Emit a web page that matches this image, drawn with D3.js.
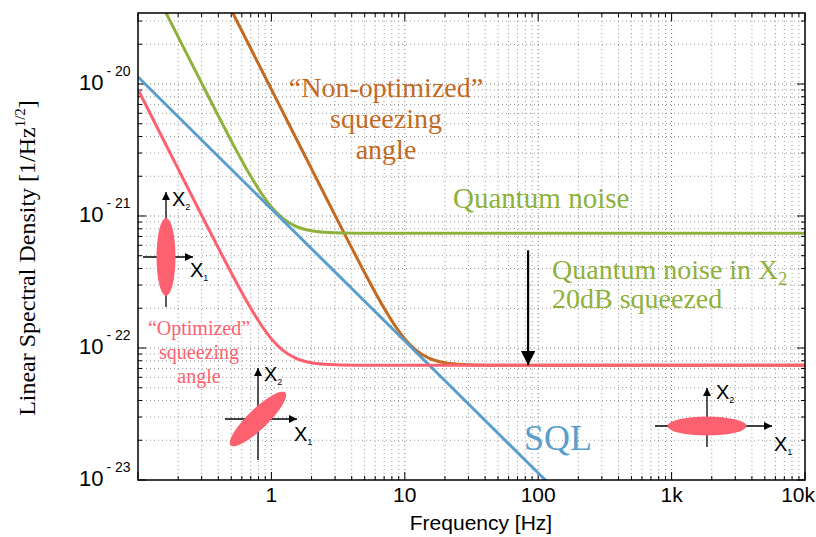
<!DOCTYPE html>
<html>
<head>
<meta charset="utf-8">
<script src="https://cdn.jsdelivr.net/npm/d3@7"></script>
<style>
  html, body { margin: 0; padding: 0; background: #fff; }
  svg { display: block; }
</style>
</head>
<body>
<svg id="chart" width="816" height="537"></svg>
<script>
// Quantum noise budget: SQL, unsqueezed quantum noise and two 20 dB squeezed variants
const freqQN = [0.1, 0.15, 0.2, 0.3, 0.4, 0.5, 0.7, 0.85, 1, 1.2, 1.5, 2, 2.5, 3, 5, 10, 100, 1000, 10000];
const quantumNoise = [9.1e-20, 4.04e-20, 2.276e-20, 1.014e-20, 5.735e-21, 3.715e-21, 1.999e-21, 1.461e-21, 1.173e-21, 9.73e-22, 8.43e-22, 7.74e-22, 7.54e-22, 7.47e-22, 7.41e-22, 7.4e-22, 7.4e-22, 7.4e-22, 7.4e-22];
const optimizedSqz = [9.1e-21, 4.04e-21, 2.276e-21, 1.014e-21, 5.735e-22, 3.715e-22, 1.999e-22, 1.461e-22, 1.173e-22, 9.73e-23, 8.43e-23, 7.74e-23, 7.54e-23, 7.47e-23, 7.41e-23, 7.4e-23, 7.4e-23, 7.4e-23, 7.4e-23];
const freqNonOpt = [0.4, 0.5, 0.7, 1, 1.5, 2, 3, 4, 5, 7, 8.5, 10, 12, 15, 20, 25, 30, 50, 100, 1000, 10000];
const nonOptimizedSqz = [5.69e-20, 3.64e-20, 1.857e-20, 9.1e-21, 4.04e-21, 2.275e-21, 1.011e-21, 5.735e-22, 3.715e-22, 1.999e-22, 1.461e-22, 1.173e-22, 9.73e-23, 8.43e-23, 7.74e-23, 7.54e-23, 7.47e-23, 7.41e-23, 7.4e-23, 7.4e-23, 7.4e-23];
const freqSQL = [0.1, 1, 10, 100, 1000, 10000];
const sql = [1.13e-20, 1.13e-21, 1.13e-22, 1.13e-23, 1.13e-24, 1.13e-25];

const xTickValues = [1, 10, 100, 1000, 10000];
const xTickLabels = ["1", "10", "100", "1k", "10k"];
const yTickValues = [1e-23, 1e-22, 1e-21, 1e-20];
const yTickExponents = ["- 23", "- 22", "- 21", "- 20"];
const squeezeArrow = { freq: 84, from: 5.5e-22, to: 7.4e-23 };

const colors = {
  qn: "#8db13b",
  sql: "#5a9fcb",
  nonopt: "#c4691f",
  opt: "#fd6170"
};

const margin = { left: 138, right: 11, top: 13, bottom: 57 };
const W = 816, H = 537;
const svg = d3.select("#chart");

const x = d3.scaleLog().domain([0.1, 10000]).range([margin.left, W - margin.right]);
const y = d3.scaleLog().domain([1e-23, 3.45e-20]).range([H - margin.bottom, margin.top]);
const [x0, x1] = x.range();
const [y1, y0] = y.range();

// minor / major tick positions
const xMinor = [];
for (let e = -1; e < 4; e++) for (let k = 1; k <= 9; k++) xMinor.push(k * Math.pow(10, e));
xMinor.push(10000);
const yMinor = [];
for (let e = -23; e <= -20; e++) for (let k = 1; k <= 9; k++) {
  const v = k * Math.pow(10, e);
  if (v <= 3.45e-20) yMinor.push(v);
}
const isMajor = v => Math.abs(Math.log10(v) - Math.round(Math.log10(v))) < 1e-6;

// dotted grid
const grid = svg.append("g");
grid.selectAll(".gx").data(xMinor.filter(v => v > 0.1 && v < 10000)).join("line")
  .attr("x1", d => x(d)).attr("x2", d => x(d)).attr("y1", y0).attr("y2", y1)
  .attr("stroke", d => isMajor(d) ? "#777" : "#999").attr("stroke-width", 1)
  .attr("stroke-dasharray", "1,3");
grid.selectAll(".gy").data(yMinor.filter(v => v > 1e-23)).join("line")
  .attr("x1", x0).attr("x2", x1).attr("y1", d => y(d)).attr("y2", d => y(d))
  .attr("stroke", d => isMajor(d) ? "#777" : "#999").attr("stroke-width", 1)
  .attr("stroke-dasharray", "1,3");

// inward ticks on all four sides
const ticks = svg.append("g").attr("stroke", "#000").attr("stroke-width", 1);
xMinor.forEach(v => {
  const L = isMajor(v) ? 8 : 4;
  ticks.append("line").attr("x1", x(v)).attr("x2", x(v)).attr("y1", y1).attr("y2", y1 - L);
  ticks.append("line").attr("x1", x(v)).attr("x2", x(v)).attr("y1", y0).attr("y2", y0 + L);
});
yMinor.forEach(v => {
  const L = isMajor(v) ? 8 : 4;
  ticks.append("line").attr("x1", x0).attr("x2", x0 + L).attr("y1", y(v)).attr("y2", y(v));
  ticks.append("line").attr("x1", x1).attr("x2", x1 - L).attr("y1", y(v)).attr("y2", y(v));
});

// curves, clipped to the plot area
svg.append("clipPath").attr("id", "plotclip").append("rect")
  .attr("x", x0).attr("y", y0).attr("width", x1 - x0).attr("height", y1 - y0);
const curves = svg.append("g").attr("clip-path", "url(#plotclip)");
const line = d3.line().x(d => x(d[0])).y(d => y(d[1])).curve(d3.curveMonotoneX);
const series = [
  { f: freqNonOpt, v: nonOptimizedSqz, c: colors.nonopt },
  { f: freqQN, v: quantumNoise, c: colors.qn },
  { f: freqSQL, v: sql, c: colors.sql },
  { f: freqQN, v: optimizedSqz, c: colors.opt }
];
series.forEach(s => {
  curves.append("path").datum(s.f.map((f, i) => [f, s.v[i]]))
    .attr("d", line).attr("fill", "none").attr("stroke", s.c).attr("stroke-width", 3);
});

// frame
svg.append("rect").attr("x", x0).attr("y", y0).attr("width", x1 - x0).attr("height", y1 - y0)
  .attr("fill", "none").attr("stroke", "#000").attr("stroke-width", 1.5);

// tick labels
const sans = "'Liberation Sans', Arial, sans-serif";
const serif = "'Liberation Serif', 'Times New Roman', serif";
svg.append("g").selectAll("text").data(xTickValues).join("text")
  .attr("x", (d, i) => i === xTickValues.length - 1 ? W - 1 : x(d)).attr("y", y1 + 22)
  .attr("text-anchor", (d, i) => i === xTickValues.length - 1 ? "end" : "middle")
  .attr("font-family", sans).attr("font-size", 21).text((d, i) => xTickLabels[i]);
const yl = svg.append("g").selectAll("text").data(yTickValues).join("text")
  .attr("x", 79).attr("y", d => y(d) + 6).attr("font-family", sans).attr("font-size", 22);
yl.append("tspan").text("10");
yl.append("tspan").attr("dx", 3).attr("dy", -14).attr("font-size", 14).text((d, i) => yTickExponents[i]);

// axis titles
svg.append("text").attr("x", 481).attr("y", 530).attr("text-anchor", "middle")
  .attr("font-family", sans).attr("font-size", 21).text("Frequency [Hz]");
const yt = svg.append("text").attr("transform", "translate(35,258) rotate(-90)")
  .attr("text-anchor", "middle").attr("font-family", serif).attr("font-size", 24);
yt.append("tspan").text("Linear Spectral Density [1/Hz");
yt.append("tspan").attr("dy", -10).attr("font-size", 15).text("1/2");
yt.append("tspan").attr("dy", 10).text("]");

// curve annotations
function label(lines, cx, cy, size, color, lh) {
  const t = svg.append("text").attr("font-family", serif).attr("font-size", size)
    .attr("fill", color).attr("text-anchor", "middle");
  lines.forEach((s, i) => t.append("tspan").attr("x", cx).attr("y", cy + i * lh).text(s));
}
label(["\u201CNon-optimized\u201D", "squeezing", "angle"], 386, 97, 28, colors.nonopt, 31);
label(["\u201COptimized\u201D", "squeezing", "angle"], 199, 335, 20, colors.opt, 24);
svg.append("text").attr("x", 453).attr("y", 208).attr("font-family", serif).attr("font-size", 29)
  .attr("fill", colors.qn).text("Quantum noise");
const qx = svg.append("text").attr("x", 552).attr("y", 279).attr("font-family", serif).attr("font-size", 28)
  .attr("fill", colors.qn);
qx.append("tspan").text("Quantum noise in X");
qx.append("tspan").attr("dy", 6).attr("font-size", 18).text("2");
svg.append("text").attr("x", 552).attr("y", 308).attr("font-family", serif).attr("font-size", 28)
  .attr("fill", colors.qn).text("20dB squeezed");
svg.append("text").attr("x", 524).attr("y", 450).attr("font-family", serif).attr("font-size", 36)
  .attr("fill", colors.sql).text("SQL");

// squeezing arrow
const defs = svg.append("defs");
defs.append("marker").attr("id", "bigArrow").attr("viewBox", "0 0 10 10").attr("refX", 10).attr("refY", 5)
  .attr("markerWidth", 6.5).attr("markerHeight", 6.5).attr("markerUnits", "strokeWidth").attr("orient", "auto")
  .append("path").attr("d", "M0,0 L10,5 L0,10 Z").attr("fill", "#000");
defs.append("marker").attr("id", "smallArrow").attr("viewBox", "0 0 10 10").attr("refX", 10).attr("refY", 5)
  .attr("markerWidth", 12).attr("markerHeight", 8).attr("markerUnits", "userSpaceOnUse").attr("orient", "auto")
  .append("path").attr("d", "M0,0 L10,5 L0,10 Z").attr("fill", "#000");
svg.append("line")
  .attr("x1", x(squeezeArrow.freq)).attr("x2", x(squeezeArrow.freq))
  .attr("y1", y(squeezeArrow.from)).attr("y2", y(squeezeArrow.to))
  .attr("stroke", "#000").attr("stroke-width", 2.2).attr("marker-end", "url(#bigArrow)");

// phase-space sketches of the squeezed states (ellipse drawn over the axes)
function phase(cx, cy, h0, h1, v0, v1, rx, ry, rot, l2, l1) {
  const g = svg.append("g");
  g.append("line").attr("x1", h0).attr("x2", h1).attr("y1", cy).attr("y2", cy)
    .attr("stroke", "#000").attr("stroke-width", 1.3).attr("marker-end", "url(#smallArrow)");
  g.append("line").attr("x1", cx).attr("x2", cx).attr("y1", v0).attr("y2", v1)
    .attr("stroke", "#000").attr("stroke-width", 1.3).attr("marker-end", "url(#smallArrow)");
  g.append("ellipse").attr("cx", cx).attr("cy", cy).attr("rx", rx).attr("ry", ry)
    .attr("transform", `rotate(${rot},${cx},${cy})`).attr("fill", colors.opt);
  [[l2, "2"], [l1, "1"]].forEach(([p, s]) => {
    const t = g.append("text").attr("x", p[0]).attr("y", p[1]).attr("font-family", sans).attr("font-size", 20);
    t.append("tspan").text("X");
    t.append("tspan").attr("dy", 4).attr("font-size", 9).text(s);
  });
}
phase(166, 257, 143, 193, 307, 192, 9.5, 39, 0, [172, 206], [190, 277]);
phase(258, 419, 225, 297, 460, 368, 38, 10, -44, [264, 381], [294, 441]);
phase(707, 426, 655, 772, 447, 388, 39.5, 9.5, 0, [716, 399], [774, 451]);
</script>
</body>
</html>
